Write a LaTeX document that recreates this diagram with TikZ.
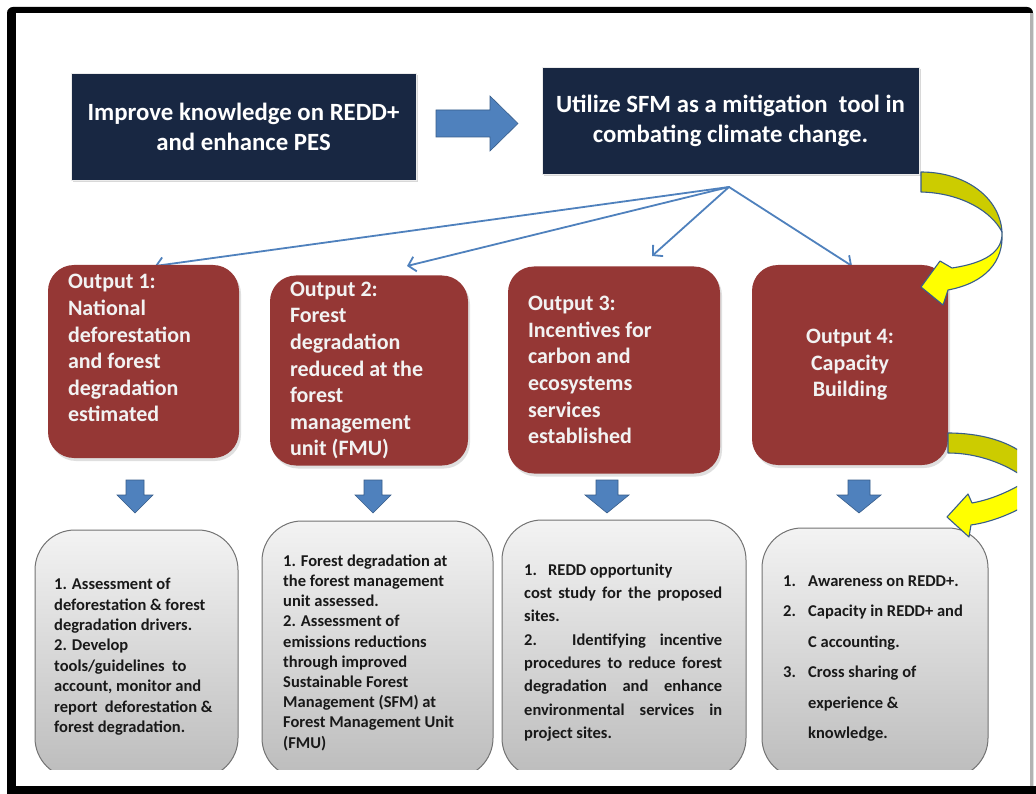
\documentclass[tikz,border=0pt]{standalone}
\usepackage{fontspec}
\setmainfont{Carlito}
\usetikzlibrary{arrows.meta,shadows,calc}
\definecolor{navy}{RGB}{24,39,66}
\definecolor{brick}{RGB}{149,55,53}
\definecolor{arrowblue}{RGB}{79,129,189}
\definecolor{arrowedge}{RGB}{56,93,138}
\definecolor{yel}{RGB}{255,255,0}
\definecolor{darkyel}{RGB}{204,204,0}
\definecolor{graytop}{RGB}{243,243,243}
\definecolor{graybot}{RGB}{188,188,188}
\definecolor{boxtext}{RGB}{242,242,242}
\newcommand{\dnarrow}[3]{\filldraw[blockarrow] (#1-#2,480) -- (#1+#2,480) -- (#1+#2,495) -- (#1+#3,495) -- (#1,513) -- (#1-#3,495) -- (#1-#2,495) -- cycle;}
\begin{document}
\begin{tikzpicture}[x=1pt,y=-1pt,
  navybox/.style={fill=navy, draw=white!85!gray, line width=0.8pt, text=white,
    font=\fontsize{24.8}{30}\selectfont\bfseries, align=center, inner sep=0pt,
    drop shadow={shadow xshift=1.5pt, shadow yshift=-2.5pt, opacity=0.3}},
  outbox/.style={fill=brick, rounded corners=26pt, text=boxtext,
    font=\fontsize{22}{26.6}\selectfont\bfseries, inner xsep=20pt, inner ysep=0pt,
    drop shadow={shadow xshift=2pt, shadow yshift=-3pt, opacity=0.25}},
  gbox/.style={top color=graytop, bottom color=graybot, draw=gray!90!black,
    line width=1pt, rounded corners=40pt, inner sep=0pt},
  gtext/.style={anchor=north west, inner sep=0pt, text=black!90, align=left},
  blockarrow/.style={fill=arrowblue, draw=arrowedge, line width=0.6pt, line join=miter},
  thinarrow/.style={draw=arrowblue, line width=1.8pt, line cap=round,
    -{Straight Barb[length=7pt,width=15pt]}},
  curvearrow/.style={draw=arrowedge, line width=1.1pt, line join=round},
]
\useasboundingbox (0,0) rectangle (1036,794);
% frame
\fill[white] (0,0) rectangle (1036,794);
\fill[black, rounded corners=6pt] (7,7) rectangle (1033,805);
\fill[white] (16,13) rectangle (1030,786);
\fill[gray!60] (1030,13) rectangle (1033,786);
\fill[black] (7,786) rectangle (1036,794);

% top boxes
\node[navybox, minimum width=345pt, minimum height=107pt] (imp) at (243.5,126.5)
  {Improve knowledge on REDD+\\and enhance PES};
\node[navybox, minimum width=377pt, minimum height=107pt] (sfm) at (730.5,120.5)
  {Utilize SFM as a mitigation\ \ tool in\\combating climate change.};
\filldraw[blockarrow] (436,110) -- (490,110) -- (490,96) -- (518,123.5) -- (490,151) -- (490,137) -- (436,137) -- cycle;

% connectors
\coordinate (hub) at (729,187);
\coordinate (t1) at (155,266);
\coordinate (t2) at (407,266);
\coordinate (t3) at (652,256);
\coordinate (t4) at (852,266);
\draw[thinarrow] (hub) -- (t1);
\draw[thinarrow] (hub) -- (t2);
\draw[thinarrow] (hub) -- (t3);
\draw[thinarrow] (hub) -- (t4);

% outputs
\node[outbox, minimum width=191pt, minimum height=193pt, text width=151pt, align=flush left] (o1) at (143.5,361.5)
  {Output 1:\\National\\deforestation\\and forest\\degradation\\estimated\\\mbox{}};
\node[outbox, minimum width=198pt, minimum height=190pt, text width=158pt, align=flush left] (o2) at (369,370.5)
  {Output 2:\\Forest\\degradation\\reduced at the\\forest\\management\\unit (FMU)};
\node[outbox, minimum width=212pt, minimum height=207pt, text width=172pt, align=flush left] (o3) at (614,370)
  {Output 3:\\Incentives for\\carbon and\\ecosystems\\services\\established};
\node[outbox, minimum width=196pt, minimum height=200pt, text width=156pt, align=flush center] (o4) at (850,365)
  {Output 4:\\Capacity\\Building};

% down arrows
\dnarrow{135}{9}{18}
\dnarrow{373}{9}{18}
\dnarrow{607}{11}{22}
\dnarrow{859}{11}{22}

% grey boxes (cut at the bottom)
\begin{scope}
\clip (0,0) rectangle (1036,769);
\node[gbox, minimum width=203pt, minimum height=248pt] (g1) at (136.5,654) {};
\node[gbox, minimum width=231pt, minimum height=257pt] (g2) at (377.5,649.5) {};
\node[gbox, minimum width=244pt, minimum height=258pt] (g3) at (624,649) {};
\node[gbox, minimum width=226pt, minimum height=250pt] (g4) at (875,653) {};
\end{scope}

\node[gtext, font=\fontsize{16.5}{20.4}\selectfont\bfseries] (x1) at (54,578)
  {1. Assessment of\\deforestation \& forest\\degradation drivers.\\2. Develop\\tools/guidelines\ \ to\\account, monitor and\\report\ \ deforestation \&\\forest degradation.};
\node[gtext, font=\fontsize{16.5}{20.2}\selectfont\bfseries] (x2) at (283,554.5)
  {1. Forest degradation at\\the forest management\\unit assessed.\\2. Assessment of\\emissions reductions\\through improved\\Sustainable Forest\\Management (SFM) at\\Forest Management Unit\\(FMU)};
\node[gtext, font=\fontsize{16.5}{23.3}\selectfont\bfseries] (x3) at (524,563.5)
  {1.\ \ \ REDD opportunity\\
   \makebox[198pt][s]{cost study for the proposed}\\
   sites.\\
   \makebox[198pt][s]{2. Identifying incentive}\\
   \makebox[198pt][s]{procedures to reduce forest}\\
   \makebox[198pt][s]{degradation and enhance}\\
   \makebox[198pt][s]{environmental services in}\\
   project sites.};
\node[gtext, font=\fontsize{16.5}{30.5}\selectfont\bfseries] (x4) at (783,575.5)
  {\makebox[25pt][l]{1.}Awareness on REDD+.\\
   \makebox[25pt][l]{2.}Capacity in REDD+ and\\
   \hspace*{25pt}C accounting.\\
   \makebox[25pt][l]{3.}Cross sharing of\\
   \hspace*{25pt}experience \&\\
   \hspace*{25pt}knowledge.};

% yellow curved arrows
\filldraw[curvearrow, fill=darkyel] (921,172) .. controls (966,172) and (1000,198) .. (1002,232)
  .. controls (992,212) and (962,193) .. (921,192) -- cycle;
\filldraw[curvearrow, fill=yel] (1002,232) .. controls (1003,252) and (985,263) .. (952,268)
  -- (940,261) -- (921,287) -- (943,305) -- (948,290)
  .. controls (985,283) and (1004,262) .. (1002,232) -- cycle;
\begin{scope}
\clip (900,400) rectangle (1017,560);
\filldraw[curvearrow, fill=darkyel] (948,433) .. controls (980,433) and (1008,441) .. (1025,455)
  -- (1025,478) .. controls (1006,464) and (978,453) .. (948,453) -- cycle;
\filldraw[curvearrow, fill=yel] (1025,482) .. controls (1005,494) and (988,500) .. (972,503)
  -- (968,494) -- (947,517) -- (969,537) -- (971,525)
  .. controls (992,522) and (1010,514) .. (1025,506) -- cycle;
\end{scope}
\end{tikzpicture}
\end{document}
